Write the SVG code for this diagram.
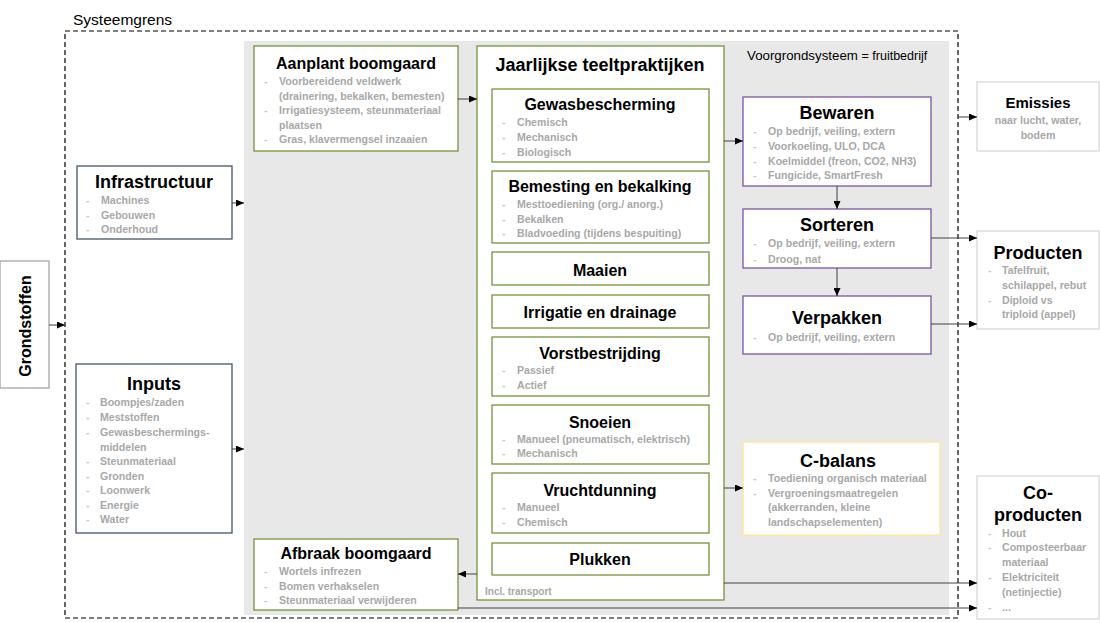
<svg xmlns="http://www.w3.org/2000/svg" width="1100" height="623" viewBox="0 0 1100 623">
<defs>
<marker id="ah" markerWidth="8" markerHeight="7" refX="8" refY="3.5" orient="auto" markerUnits="userSpaceOnUse">
<path d="M0,0 L8,3.5 L0,7 z" fill="#000"/>
</marker>
<style>
text{font-family:"Liberation Sans",Arial,sans-serif}
.box{fill:#fff;stroke-width:1.3}
.g{stroke:#77933c}
.p{stroke:#7a55a8}
.b{stroke:#44546a}
.y{stroke:#ffe699}
.l{stroke:#d9d9d9}
.gr{stroke:#a6a6a6}
.t16{font-size:16px;font-weight:bold;fill:#000;text-anchor:middle}
.t18{font-size:18px;font-weight:bold;fill:#000;text-anchor:middle}
.bl{font-size:10.6px;font-weight:bold;fill:#a8a8a8}
.d{font-size:10.6px;font-weight:bold;fill:#c8c8c8}
.c{fill:none;stroke:#404040;stroke-width:1;marker-end:url(#ah)}
</style>
</defs>
<rect width="1100" height="623" fill="#fff"/>
<g id="systeemgrens">
<rect x="244" y="41" width="705" height="574" fill="#e8e8e8"/>
<rect x="65" y="31" width="893" height="587" fill="none" stroke="#000" stroke-width="1.2" stroke-dasharray="5,3"/>
<text x="73" y="25" font-size="15.5px" fill="#000">Systeemgrens</text>
<text x="747" y="60" font-size="13.3px" fill="#000">Voorgrondsysteem <tspan font-size="12.5px">= fruitbedrijf</tspan></text>
</g>
<g id="grondstoffen">
<rect x="0" y="261" width="49" height="127" class="box gr"/>
<text class="t16" transform="translate(31,326) rotate(-90)">Grondstoffen</text>
</g>
<g id="infrastructuur">
<rect x="77" y="166" width="155" height="73" class="box b"/>
<text x="154" y="188" class="t18">Infrastructuur</text>
<text x="86" y="204" class="d">-</text><text x="101" y="204" class="bl">Machines</text>
<text x="86" y="219" class="d">-</text><text x="101" y="219" class="bl">Gebouwen</text>
<text x="86" y="233" class="d">-</text><text x="101" y="233" class="bl">Onderhoud</text>
</g>
<g id="inputs">
<rect x="76" y="364" width="156" height="169" class="box b"/>
<text x="154" y="390" class="t18">Inputs</text>
<text x="86" y="406" class="d">-</text><text x="100" y="406" class="bl">Boompjes/zaden</text>
<text x="86" y="421" class="d">-</text><text x="100" y="421" class="bl">Meststoffen</text>
<text x="86" y="436" class="d">-</text><text x="100" y="436" class="bl">Gewasbeschermings-</text>
<text x="100" y="451" class="bl">middelen</text>
<text x="86" y="465" class="d">-</text><text x="100" y="465" class="bl">Steunmateriaal</text>
<text x="86" y="480" class="d">-</text><text x="100" y="480" class="bl">Gronden</text>
<text x="86" y="494" class="d">-</text><text x="100" y="494" class="bl">Loonwerk</text>
<text x="86" y="509" class="d">-</text><text x="100" y="509" class="bl">Energie</text>
<text x="86" y="523" class="d">-</text><text x="100" y="523" class="bl">Water</text>
</g>
<g id="aanplant">
<rect x="254" y="46" width="204" height="105" class="box g"/>
<text x="356" y="69" class="t16">Aanplant boomgaard</text>
<text x="264" y="85" class="d">-</text><text x="279" y="85" class="bl">Voorbereidend veldwerk</text>
<text x="279" y="100" class="bl">(drainering, bekalken, bemesten)</text>
<text x="264" y="114" class="d">-</text><text x="279" y="114" class="bl">Irrigatiesysteem, steunmateriaal</text>
<text x="279" y="129" class="bl">plaatsen</text>
<text x="264" y="143" class="d">-</text><text x="279" y="143" class="bl">Gras, klavermengsel inzaaien</text>
</g>
<g id="afbraak">
<rect x="254" y="539" width="204" height="71" class="box g"/>
<text x="356" y="559" class="t16">Afbraak boomgaard</text>
<text x="264" y="575" class="d">-</text><text x="279" y="575" class="bl">Wortels infrezen</text>
<text x="264" y="590" class="d">-</text><text x="279" y="590" class="bl">Bomen verhakselen</text>
<text x="264" y="604" class="d">-</text><text x="279" y="604" class="bl">Steunmateriaal verwijderen</text>
</g>
<g id="jaarlijkse">
<rect x="477" y="46" width="247" height="554" class="box g"/>
<text x="600" y="71" class="t18">Jaarlijkse teeltpraktijken</text>
<text x="485" y="595" font-size="10px" font-weight="bold" fill="#a8a8a8">Incl. transport</text>
</g>
<g id="gewasbescherming">
<rect x="492" y="89" width="217" height="73" class="box g"/>
<text x="600" y="110" class="t16">Gewasbescherming</text>
<text x="502" y="126" class="d">-</text><text x="517" y="126" class="bl">Chemisch</text>
<text x="502" y="141" class="d">-</text><text x="517" y="141" class="bl">Mechanisch</text>
<text x="502" y="156" class="d">-</text><text x="517" y="156" class="bl">Biologisch</text>
</g>
<g id="bemesting">
<rect x="492" y="171" width="217" height="72" class="box g"/>
<text x="600" y="192" class="t16">Bemesting en bekalking</text>
<text x="502" y="208" class="d">-</text><text x="517" y="208" class="bl">Mesttoediening (org./ anorg.)</text>
<text x="502" y="223" class="d">-</text><text x="517" y="223" class="bl">Bekalken</text>
<text x="502" y="237" class="d">-</text><text x="517" y="237" class="bl">Bladvoeding (tijdens bespuiting)</text>
</g>
<g id="maaien">
<rect x="492" y="252" width="217" height="33" class="box g"/>
<text x="600" y="276" class="t16">Maaien</text>
</g>
<g id="irrigatie">
<rect x="492" y="295" width="217" height="33" class="box g"/>
<text x="600" y="318" class="t16">Irrigatie en drainage</text>
</g>
<g id="vorstbestrijding">
<rect x="492" y="337" width="217" height="59" class="box g"/>
<text x="600" y="359" class="t16">Vorstbestrijding</text>
<text x="502" y="374" class="d">-</text><text x="517" y="374" class="bl">Passief</text>
<text x="502" y="389" class="d">-</text><text x="517" y="389" class="bl">Actief</text>
</g>
<g id="snoeien">
<rect x="492" y="405" width="217" height="59" class="box g"/>
<text x="600" y="428" class="t16">Snoeien</text>
<text x="502" y="443" class="d">-</text><text x="517" y="443" class="bl">Manueel (pneumatisch, elektrisch)</text>
<text x="502" y="457" class="d">-</text><text x="517" y="457" class="bl">Mechanisch</text>
</g>
<g id="vruchtdunning">
<rect x="492" y="473" width="217" height="60" class="box g"/>
<text x="600" y="496" class="t16">Vruchtdunning</text>
<text x="502" y="511" class="d">-</text><text x="517" y="511" class="bl">Manueel</text>
<text x="502" y="526" class="d">-</text><text x="517" y="526" class="bl">Chemisch</text>
</g>
<g id="plukken">
<rect x="492" y="543" width="217" height="32" class="box g"/>
<text x="600" y="565" class="t16">Plukken</text>
</g>
<g id="bewaren">
<rect x="743" y="97" width="188" height="89" class="box p"/>
<text x="837" y="119" class="t18">Bewaren</text>
<text x="753" y="135" class="d">-</text><text x="768" y="135" class="bl">Op bedrijf, veiling, extern</text>
<text x="753" y="150" class="d">-</text><text x="768" y="150" class="bl">Voorkoeling, ULO, DCA</text>
<text x="753" y="165" class="d">-</text><text x="768" y="165" class="bl">Koelmiddel (freon, CO2, NH3)</text>
<text x="753" y="179" class="d">-</text><text x="768" y="179" class="bl">Fungicide, SmartFresh</text>
</g>
<g id="sorteren">
<rect x="743" y="209" width="188" height="59" class="box p"/>
<text x="837" y="231" class="t18">Sorteren</text>
<text x="753" y="247" class="d">-</text><text x="768" y="247" class="bl">Op bedrijf, veiling, extern</text>
<text x="753" y="263" class="d">-</text><text x="768" y="263" class="bl">Droog, nat</text>
</g>
<g id="verpakken">
<rect x="743" y="296" width="188" height="58" class="box p"/>
<text x="837" y="324" class="t18">Verpakken</text>
<text x="753" y="341" class="d">-</text><text x="768" y="341" class="bl">Op bedrijf, veiling, extern</text>
</g>
<g id="cbalans">
<rect x="743" y="442" width="197" height="93" class="box y"/>
<text x="838" y="467" class="t18">C-balans</text>
<text x="753" y="482" class="d">-</text><text x="768" y="482" class="bl">Toediening organisch materiaal</text>
<text x="753" y="497" class="d">-</text><text x="768" y="497" class="bl">Vergroeningsmaatregelen</text>
<text x="768" y="511" class="bl">(akkerranden, kleine</text>
<text x="768" y="526" class="bl">landschapselementen)</text>
</g>
<g id="emissies">
<rect x="977" y="82" width="122" height="69" class="box l"/>
<text x="1038" y="108" font-size="15px" font-weight="bold" text-anchor="middle" fill="#000">Emissies</text>
<text x="1038" y="124" class="bl" text-anchor="middle">naar lucht, water,</text>
<text x="1038" y="139" class="bl" text-anchor="middle">bodem</text>
</g>
<g id="producten">
<rect x="977" y="231" width="122" height="98" class="box l"/>
<text x="1038" y="259" class="t18">Producten</text>
<text x="988" y="274" class="d">-</text><text x="1002" y="274" class="bl">Tafelfruit,</text>
<text x="1002" y="289" class="bl">schilappel, rebut</text>
<text x="988" y="304" class="d">-</text><text x="1002" y="304" class="bl">Diploid vs</text>
<text x="1002" y="318" class="bl">triploid (appel)</text>
</g>
<g id="coproducten">
<rect x="977" y="476" width="122" height="143" class="box l"/>
<text x="1038" y="499" class="t18">Co-</text>
<text x="1038" y="521" class="t18">producten</text>
<text x="988" y="537" class="d">-</text><text x="1002" y="537" class="bl">Hout</text>
<text x="988" y="551" class="d">-</text><text x="1002" y="551" class="bl">Composteerbaar</text>
<text x="1002" y="566" class="bl">materiaal</text>
<text x="988" y="581" class="d">-</text><text x="1002" y="581" class="bl">Elektriciteit</text>
<text x="1002" y="596" class="bl">(netinjectie)</text>
<text x="988" y="611" class="d">-</text><text x="1002" y="611" class="bl">...</text>
</g>
<g id="connectors">
<line x1="49" y1="325" x2="65" y2="325" class="c"/>
<line x1="232" y1="203" x2="244" y2="203" class="c"/>
<line x1="232" y1="449" x2="244" y2="449" class="c"/>
<line x1="458" y1="99" x2="477" y2="99" class="c"/>
<line x1="477" y1="574" x2="458" y2="574" class="c"/>
<line x1="724" y1="141" x2="743" y2="141" class="c"/>
<line x1="837" y1="186" x2="837" y2="209" class="c"/>
<line x1="837" y1="268" x2="837" y2="296" class="c"/>
<line x1="931" y1="238" x2="977" y2="238" class="c"/>
<line x1="931" y1="324" x2="977" y2="324" class="c"/>
<line x1="958" y1="117" x2="977" y2="117" class="c"/>
<line x1="724" y1="488" x2="743" y2="488" class="c"/>
<line x1="724" y1="583" x2="977" y2="583" class="c"/>
<line x1="458" y1="608" x2="977" y2="608" class="c"/>
</g>
</svg>
